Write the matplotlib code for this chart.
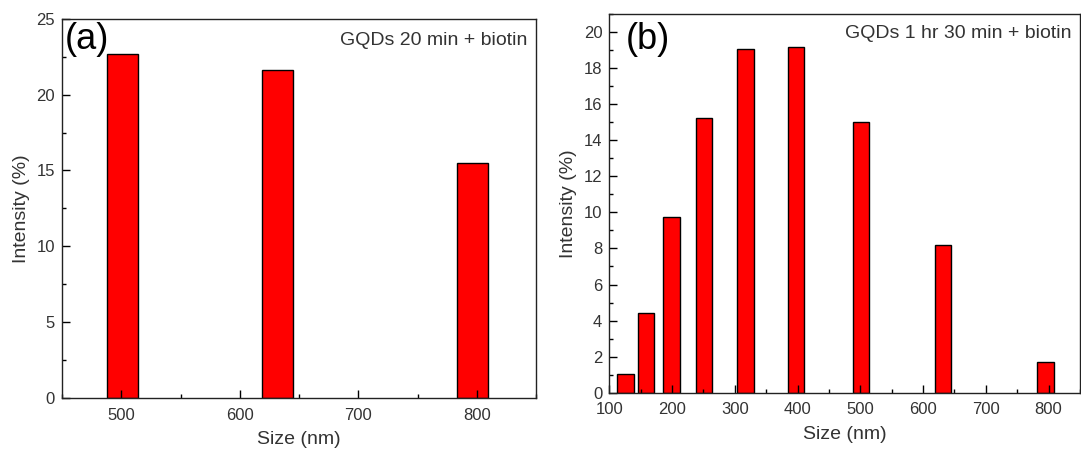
import matplotlib
matplotlib.use("Agg")
import matplotlib.pyplot as plt
from matplotlib.ticker import MultipleLocator

plt.rcParams['font.family'] = ['Liberation Sans', 'DejaVu Sans']

# panel (a): GQDs 20 min + biotin
size_a = [501, 632, 796]
intensity_a = [22.64, 21.61, 15.49]

# panel (b): GQDs 1 hr 30 min + biotin
size_b = [126, 159, 199, 251, 317, 398, 501, 632, 795]
intensity_b = [1.03, 4.40, 9.77, 15.24, 19.08, 19.15, 15.0, 8.20, 1.72]

bar_width = 26
txt_color = '#333333'

fig = plt.figure(figsize=(10.81, 4.54), dpi=100)
ax1 = fig.add_axes([0.0574, 0.1227, 0.4386, 0.8363])
ax2 = fig.add_axes([0.5636, 0.135, 0.4354, 0.834])


def style_axes(ax, xmajor, xminor, ymajor, yminor):
    ax.xaxis.set_major_locator(MultipleLocator(xmajor))
    ax.xaxis.set_minor_locator(MultipleLocator(xminor))
    ax.yaxis.set_major_locator(MultipleLocator(ymajor))
    ax.yaxis.set_minor_locator(MultipleLocator(yminor))
    ax.tick_params(which='both', direction='in', top=False, right=False,
                   labelsize=12, labelcolor=txt_color, color='black')
    ax.tick_params(which='major', length=6, width=1, pad=5)
    ax.tick_params(axis='x', which='major', pad=7)
    ax.tick_params(which='minor', length=3, width=1)
    for sp in ax.spines.values():
        sp.set_linewidth(1.0)
        sp.set_color('#222222')
    ax.set_xlabel('Size (nm)', fontsize=14, color=txt_color, labelpad=6)
    ax.set_ylabel('Intensity (%)', fontsize=14, color=txt_color, labelpad=5)


# (a)
ax1.bar(size_a, intensity_a, width=bar_width, color='#ff0000',
        edgecolor='black', linewidth=1.0, zorder=1)
ax1.set_xlim(450, 850)
ax1.set_ylim(0, 25)
style_axes(ax1, 100, 50, 5, 2.5)
ax1.text(0.006, 0.99, '(a)', transform=ax1.transAxes, fontsize=26,
         ha='left', va='top', color='black')
ax1.text(0.981, 0.943, 'GQDs 20 min + biotin', transform=ax1.transAxes,
         fontsize=14, ha='right', va='center', color=txt_color)

# (b)
ax2.bar(size_b, intensity_b, width=bar_width, color='#ff0000',
        edgecolor='black', linewidth=1.0, zorder=1)
ax2.set_xlim(100, 850)
ax2.set_ylim(0, 21)
style_axes(ax2, 100, 50, 2, 1)
ax2.text(0.034, 0.98, '(b)', transform=ax2.transAxes, fontsize=26,
         ha='left', va='top', color='black')
ax2.text(0.982, 0.95, 'GQDs 1 hr 30 min + biotin', transform=ax2.transAxes,
         fontsize=14, ha='right', va='center', color=txt_color)

fig.savefig('out.png', dpi=100)
